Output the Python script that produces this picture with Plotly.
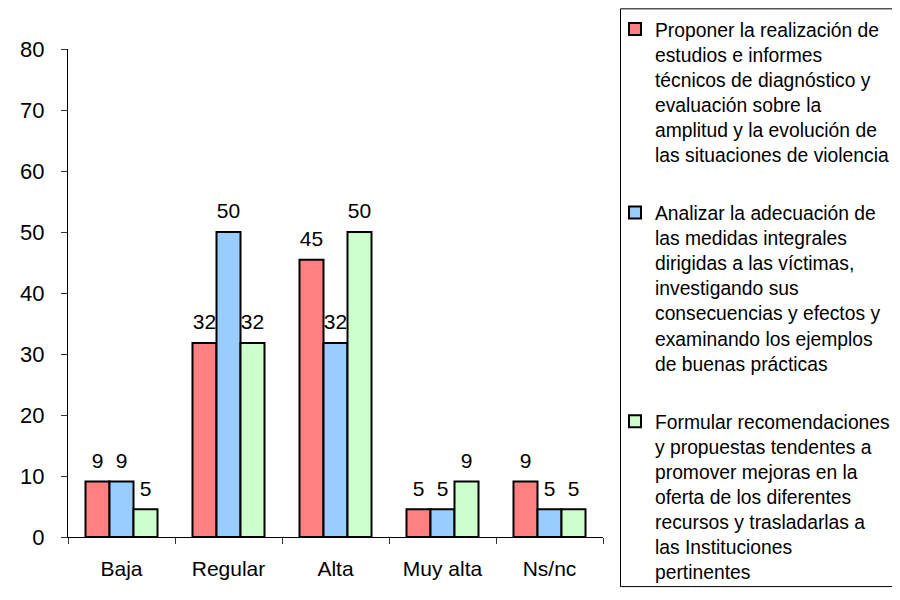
import plotly.graph_objects as go

categories = ["Baja", "Regular", "Alta", "Muy alta", "Ns/nc"]
series_names = [
    "Proponer la realización de<br>estudios e informes<br>técnicos de diagnóstico y<br>evaluación sobre la<br>amplitud y la evolución de<br>las situaciones de violencia",
    "Analizar la adecuación de<br>las medidas integrales<br>dirigidas a las víctimas,<br>investigando sus<br>consecuencias y efectos y<br>examinando los ejemplos<br>de buenas prácticas",
    "Formular recomendaciones<br>y propuestas tendentes a<br>promover mejoras en la<br>oferta de los diferentes<br>recursos y trasladarlas a<br>las Instituciones<br>pertinentes",
]
values_proponer = [9.09, 31.82, 45.45, 4.55, 9.09]
values_analizar = [9.09, 50.0, 31.82, 4.55, 4.55]
values_formular = [4.55, 31.82, 50.0, 9.09, 4.55]
series_values = [values_proponer, values_analizar, values_formular]
colors = ["#FF8080", "#99CCFF", "#CCFFCC"]
y_ticks = [0, 10, 20, 30, 40, 50, 60, 70, 80]

FONT = "Liberation Sans, Arial, sans-serif"
FS = 21

fig = go.Figure()
for i, (name, vals, col) in enumerate(zip(series_names, series_values, colors)):
    fig.add_trace(go.Bar(
        x=categories, y=vals, name=name,
        marker=dict(color=col, line=dict(color="black", width=2)),
        offsetgroup=str(i), legendgroup=str(i),
        hoverinfo="skip",
    ))
for i, vals in enumerate(series_values):
    fig.add_trace(go.Scatter(
        x=categories, y=vals, mode="markers+text",
        text=[f"{v:.0f}" for v in vals],
        textposition="top center",
        textfont=dict(family=FONT, size=FS, color="black"),
        marker=dict(size=12, color="rgba(0,0,0,0)"),
        offsetgroup=str(i), showlegend=False, cliponaxis=False,
        hoverinfo="skip",
    ))

FW, FH = 884, 584
L, T, W, H = 49, 41, 550, 492
bx0 = (617 - L) / W
bx1 = (FW + 30 - L) / W
by0 = (T + H - (FH - 1)) / H
by1 = (T + H - 0.5) / H
fig.update_layout(
    width=FW, height=FH,
    paper_bgcolor="white", plot_bgcolor="white",
    margin=dict(l=L, r=FW - L - W, t=T, b=FH - T - H),
    barmode="group", bargap=0.327, bargroupgap=0,
    scattermode="group", scattergap=0.327,
    font=dict(family=FONT, size=FS, color="black"),
    showlegend=True,
    legend=dict(
        xref="container", yref="container",
        x=607 / FW, y=1 - 2 / FH, xanchor="left", yanchor="top",
        font=dict(family=FONT, size=19.3, color="black"),
        traceorder="grouped", tracegroupgap=30, valign="top",
        bgcolor="rgba(0,0,0,0)", borderwidth=0,
        itemwidth=30, maxheight=1,
    ),
    shapes=[dict(
        type="path", xref="paper", yref="paper",
        path=f"M {bx1} {by1} L {bx0} {by1} L {bx0} {by0} L {bx1} {by0}",
        line=dict(color="black", width=1), fillcolor="rgba(0,0,0,0)",
    )],
)
fig.update_xaxes(
    showline=True, linecolor="black", linewidth=1,
    ticks="outside", tickson="boundaries", ticklen=6, tickcolor="#333",
    ticklabelstandoff=13, showgrid=False, zeroline=False,
    tickfont=dict(family=FONT, size=FS, color="black"),
)
fig.update_yaxes(
    range=[0, 80], tickvals=y_ticks,
    showline=True, linecolor="black", linewidth=1,
    ticks="outside", ticklen=6, tickcolor="#333",
    ticklabelstandoff=12, showgrid=False, zeroline=False,
    tickfont=dict(family=FONT, size=22, color="black"),
)

fig.write_html("out.html")
